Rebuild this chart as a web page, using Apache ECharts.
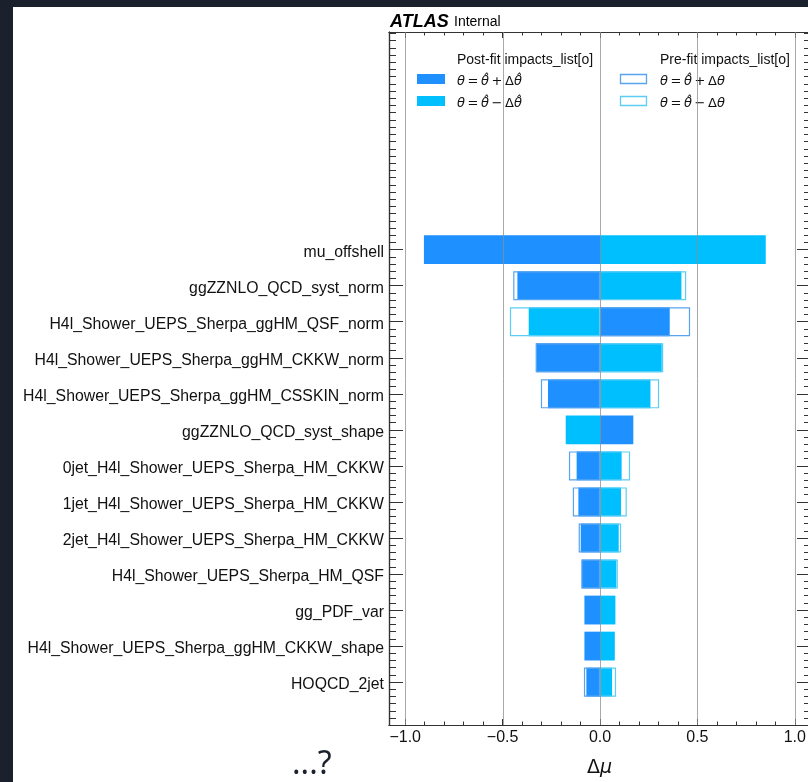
<!DOCTYPE html>
<html>
<head>
<meta charset="utf-8">
<script src="https://cdn.jsdelivr.net/npm/echarts@6/dist/echarts.min.js"></script>
<style>
  html, body { margin: 0; padding: 0; background: #1a202c; overflow: hidden; width: 808px; height: 782px; }
  #chart { position: absolute; left: 0; top: 0; width: 812px; height: 782px; }
</style>
</head>
<body>
<div id="chart"></div>
<script>
// ---------------- data ----------------
const parameters = [
  'mu_offshell',
  'ggZZNLO_QCD_syst_norm',
  'H4l_Shower_UEPS_Sherpa_ggHM_QSF_norm',
  'H4l_Shower_UEPS_Sherpa_ggHM_CKKW_norm',
  'H4l_Shower_UEPS_Sherpa_ggHM_CSSKIN_norm',
  'ggZZNLO_QCD_syst_shape',
  '0jet_H4l_Shower_UEPS_Sherpa_HM_CKKW',
  '1jet_H4l_Shower_UEPS_Sherpa_HM_CKKW',
  '2jet_H4l_Shower_UEPS_Sherpa_HM_CKKW',
  'H4l_Shower_UEPS_Sherpa_HM_QSF',
  'gg_PDF_var',
  'H4l_Shower_UEPS_Sherpa_ggHM_CKKW_shape',
  'HOQCD_2jet'
];
// post-fit impact, theta = theta_hat + delta_theta_hat
const postfitUp   = [-0.904, -0.424,  0.358, -0.327, -0.267,  0.171, -0.120, -0.111, -0.099, -0.094, -0.080, -0.080, -0.070];
// post-fit impact, theta = theta_hat - delta_theta_hat
const postfitDown = [ 0.851,  0.418, -0.366,  0.317,  0.259, -0.176,  0.111,  0.108,  0.096,  0.084,  0.079,  0.076,  0.062];
// pre-fit impact, theta = theta_hat + delta_theta
const prefitUp    = [null, -0.445,  0.462, -0.330, -0.303, null, -0.159, -0.139, -0.109, -0.095, null, null, -0.082];
// pre-fit impact, theta = theta_hat - delta_theta
const prefitDown  = [null,  0.442, -0.462,  0.324,  0.303, null,  0.154,  0.137,  0.108,  0.091, null, null,  0.082];

const xTickLabels = [-1.0, -0.5, 0.0, 0.5, 1.0];

// ---------------- styling helpers ----------------
const C_UP = '#1e90ff';
const C_DOWN = '#00bfff';
const C_PRE_UP = '#58a4ee';
const C_PRE_DOWN = '#5ccdf4';
const SPINE = '#333333';
const FONT = '"Liberation Sans", Arial, Helvetica, sans-serif';

const X_MIN = -1.0833, X_MAX = 1.0833;
const Y_MIN = -6.04, Y_MAX = 13.19;

const rowTicks = parameters.map((_, i) => i);
const xMinor = [];
for (let k = -10; k <= 10; k++) xMinor.push(k / 10);
const yMinor = [];
for (let k = -30; k <= 66; k++) yMinor.push(k / 5);

function rows(values) {
  const out = [];
  values.forEach((v, i) => { if (v !== null) out.push([v, i]); });
  return out;
}

function barRenderer(filled, color) {
  return function (params, api) {
    const v = api.value(0), r = api.value(1);
    const p0 = api.coord([0, r]);
    const p1 = api.coord([v, r]);
    const h = Math.abs(api.size([0, 0.8])[1]);
    const x = Math.min(p0[0], p1[0]);
    const w = Math.abs(p1[0] - p0[0]);
    if (filled) {
      return { type: 'rect', shape: { x: x, y: p0[1] - h / 2, width: w, height: h },
               style: { fill: color, stroke: null } };
    }
    return { type: 'rect', shape: { x: x + 0.5, y: p0[1] - h / 2 + 0.5, width: w - 1, height: h - 1 },
             style: { fill: null, stroke: color, lineWidth: 1.2 } };
  };
}

function gridRenderer(params, api) {
  const cs = params.coordSys;
  const x = Math.round(api.coord([api.value(0), 0])[0]) + 0.5;
  return { type: 'line', shape: { x1: x, y1: cs.y, x2: x, y2: cs.y + cs.height },
           style: { stroke: 'rgba(140,140,140,0.75)', lineWidth: 1 } };
}

function makeX(pos, ticks, len, withLabels) {
  return {
    type: 'value', position: pos, min: X_MIN, max: X_MAX,
    axisLine: { show: true, onZero: false, lineStyle: { color: SPINE, width: 1.2 } },
    axisTick: { show: true, inside: true, length: len, customValues: ticks, lineStyle: { color: SPINE } },
    axisLabel: withLabels ? {
      show: true, customValues: ticks, margin: 5,
      fontFamily: FONT, fontSize: 16, color: '#111',
      formatter: v => (v < 0 ? '\u2212' : '') + Math.abs(v).toFixed(1)
    } : { show: false },
    splitLine: { show: false }
  };
}

function makeY(pos, ticks, len, withLabels) {
  return {
    type: 'value', position: pos, inverse: true, min: Y_MIN, max: Y_MAX,
    axisLine: { show: true, onZero: false, lineStyle: { color: SPINE, width: 1.2 } },
    axisTick: { show: true, inside: true, length: len, customValues: ticks, lineStyle: { color: SPINE } },
    axisLabel: withLabels ? {
      show: true, customValues: ticks, margin: 5,
      fontFamily: FONT, fontSize: 15.8, color: '#111',
      formatter: v => '{p|' + parameters[Math.round(v)] + '}',
      rich: { p: { fontFamily: FONT, fontSize: 15.8, color: '#111', padding: [5, 0, 0, 0] } }
    } : { show: false },
    splitLine: { show: false }
  };
}

const mathRich = {
  i: { fontFamily: '"DejaVu Sans"', fontStyle: 'italic', fontSize: 13, color: '#111' },
  n: { fontFamily: '"DejaVu Sans"', fontSize: 13, color: '#111' }
};
function legendText(x, y, str) {
  return { type: 'text', left: x, top: y,
           style: { text: str, rich: mathRich, fontFamily: '"DejaVu Sans"', fontSize: 13, fill: '#111',
                    verticalAlign: 'middle' } };
}
const S = '\u2009';

const chart = echarts.init(document.getElementById('chart'), null, { renderer: 'canvas' });
chart.setOption({
  backgroundColor: '#ffffff',
  animation: false,
  grid: { left: 389, right: 1, top: 32, bottom: 57, containLabel: false },
  xAxis: [
    makeX('bottom', xTickLabels, 6, true),
    makeX('top', xTickLabels, 6, false),
    makeX('bottom', xMinor, 3.5, false),
    makeX('top', xMinor, 3.5, false)
  ],
  yAxis: [
    makeY('left', rowTicks, 14, true),
    makeY('left', yMinor, 7, false),
    makeY('right', rowTicks, 14, false),
    makeY('right', yMinor, 7, false)
  ],
  series: [
    { name: 'Post-fit +', type: 'custom', xAxisIndex: 0, yAxisIndex: 0, z: 2,
      renderItem: barRenderer(true, C_UP), encode: { x: 0, y: 1 }, data: rows(postfitUp) },
    { name: 'Post-fit -', type: 'custom', xAxisIndex: 0, yAxisIndex: 0, z: 2,
      renderItem: barRenderer(true, C_DOWN), encode: { x: 0, y: 1 }, data: rows(postfitDown) },
    { name: 'Pre-fit +', type: 'custom', xAxisIndex: 0, yAxisIndex: 0, z: 3,
      renderItem: barRenderer(false, C_PRE_UP), encode: { x: 0, y: 1 }, data: rows(prefitUp) },
    { name: 'Pre-fit -', type: 'custom', xAxisIndex: 0, yAxisIndex: 0, z: 3,
      renderItem: barRenderer(false, C_PRE_DOWN), encode: { x: 0, y: 1 }, data: rows(prefitDown) },
    { name: 'grid', type: 'custom', xAxisIndex: 0, yAxisIndex: 0, z: 4, silent: true,
      renderItem: gridRenderer, encode: { x: 0 }, data: xTickLabels.map(v => [v]) }
  ],
  graphic: [
    // dark page frame
    { type: 'rect', shape: { x: 0, y: 0, width: 812, height: 7 }, style: { fill: '#1a202c' }, z: 100 },
    { type: 'rect', shape: { x: 0, y: 0, width: 13, height: 782 }, style: { fill: '#1a202c' }, z: 100 },
    // ATLAS Internal
    { type: 'text', left: 390, top: 13,
      style: { text: 'ATLAS', fontFamily: FONT, fontWeight: 'bold', fontStyle: 'italic', fontSize: 18, fill: '#000' } },
    { type: 'text', left: 454, top: 15,
      style: { text: 'Internal', fontFamily: FONT, fontSize: 14, fill: '#000' } },
    // legend headers
    { type: 'text', left: 457, top: 53,
      style: { text: 'Post-fit impacts_list[o]', fontFamily: FONT, fontSize: 14, fill: '#111' } },
    { type: 'text', left: 660, top: 53,
      style: { text: 'Pre-fit impacts_list[o]', fontFamily: FONT, fontSize: 14, fill: '#111' } },
    // legend keys
    { type: 'rect', shape: { x: 417, y: 74, width: 28, height: 10 }, style: { fill: C_UP } },
    { type: 'rect', shape: { x: 417, y: 96, width: 28, height: 10 }, style: { fill: C_DOWN } },
    { type: 'rect', shape: { x: 620.5, y: 74.5, width: 26, height: 9 }, style: { fill: null, stroke: C_PRE_UP, lineWidth: 1.3 } },
    { type: 'rect', shape: { x: 620.5, y: 96.5, width: 26, height: 9 }, style: { fill: null, stroke: C_PRE_DOWN, lineWidth: 1.3 } },
    legendText(457, 75, '{i|\u03b8}' + S + '{n|=}' + S + '{i|\u03b8\u0302}' + S + '{n|+}' + S + '{n|\u0394}{i|\u03b8\u0302}'),
    legendText(457, 97, '{i|\u03b8}' + S + '{n|=}' + S + '{i|\u03b8\u0302}' + S + '{n|\u2212}' + S + '{n|\u0394}{i|\u03b8\u0302}'),
    legendText(660, 75, '{i|\u03b8}' + S + '{n|=}' + S + '{i|\u03b8\u0302}' + S + '{n|+}' + S + '{n|\u0394}{i|\u03b8}'),
    legendText(660, 97, '{i|\u03b8}' + S + '{n|=}' + S + '{i|\u03b8\u0302}' + S + '{n|\u2212}' + S + '{n|\u0394}{i|\u03b8}'),
    // x-axis title
    { type: 'text', left: 587, top: 759,
      style: { text: '\u0394{i|\u03bc}', rich: { i: { fontStyle: 'italic', fontFamily: '"DejaVu Sans"', fontSize: 19, fill: '#111' } },
               fontFamily: '"DejaVu Sans"', fontSize: 19, fill: '#111' } },
    // caption outside the figure
    { type: 'text', left: 292, top: 749,
      style: { text: '...?', fontFamily: '"Noto Sans", sans-serif', fontSize: 32, fill: '#1a202c' } }
  ]
});
</script>
</body>
</html>
